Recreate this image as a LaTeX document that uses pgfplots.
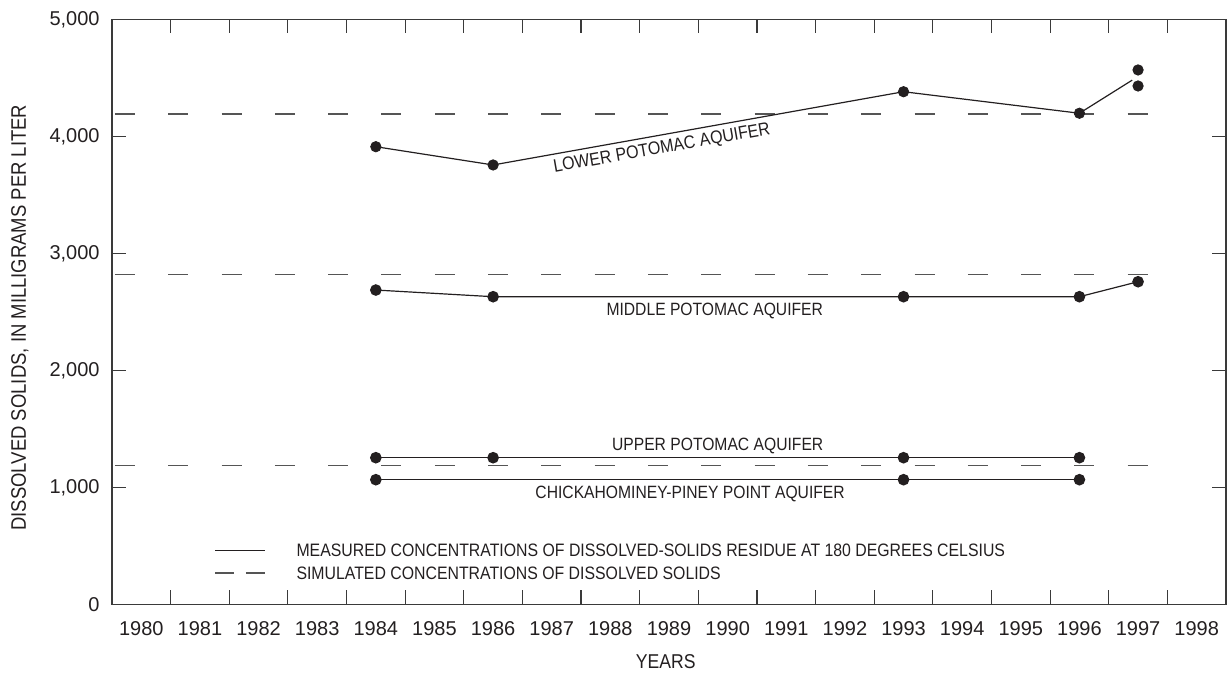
\documentclass[border=0pt]{standalone}
\usepackage{pgfplots}
\pgfplotsset{compat=1.18}
\usepackage{fontspec}
\setmainfont{Liberation Sans}[FakeStretch=0.88]
\newfontfamily\tickfont{Liberation Sans}
\definecolor{ink}{HTML}{231F20}
\definecolor{axisgray}{HTML}{3A3A3A}
\definecolor{dashgray}{HTML}{555555}
\begin{document}
\begin{tikzpicture}
\begin{axis}[
  scale only axis, width=557pt, height=292.5pt,
  xmin=1979.5, xmax=1998.5, ymin=0, ymax=5000,
  axis line style={axisgray, line width=0.6pt},
  xtick={1979.5,1980.5,...,1998.5},
  x tick label as interval,
  xticklabels={1980,1981,1982,1983,1984,1985,1986,1987,1988,1989,1990,1991,1992,1993,1994,1995,1996,1997,1998},
  ytick={0,1000,2000,3000,4000,5000},
  tick align=inside, xtick pos=both, ytick pos=both,
  xticklabel pos=lower, yticklabel pos=left,
  major tick length=7pt,
  tick style={axisgray, line width=0.6pt},
  /pgf/number format/assume math mode=true,
  /pgf/number format/1000 sep={,},
  tick label style={font=\tickfont\fontsize{10}{12}\selectfont, text=ink},
  yticklabel style={inner sep=0pt, anchor=east, xshift=-6pt},
  xticklabel style={inner sep=0pt, anchor=north, yshift=-8.5pt},
  ylabel={DISSOLVED SOLIDS, IN MILLIGRAMS PER LITER},
  xlabel={YEARS},
  every axis y label/.style={at={(axis description cs:-0.0826,0.49)}, rotate=90, anchor=center, inner sep=0pt, font=\fontsize{10.5}{12}\selectfont, text=ink},
  every axis x label/.style={at={(axis description cs:0.497,-0.0986)}, anchor=center, inner sep=0pt, font=\fontsize{10}{12}\selectfont, text=ink},
  clip=false,
]
% simulated concentrations (dashed)
\addplot[dashgray, line width=0.6pt, dash pattern=on 10pt off 16.65pt] coordinates {(1979.551,4190) (1997.17,4190)};
\addplot[dashgray, line width=0.6pt, dash pattern=on 10pt off 16.65pt] coordinates {(1979.551,2820) (1997.17,2820)};
\addplot[dashgray, line width=0.6pt, dash pattern=on 10pt off 16.65pt] coordinates {(1979.551,1185) (1997.17,1185)};
% lower potomac
\addplot[ink, line width=0.6pt] coordinates {(1984,3911) (1986,3755) (1993,4381) (1996,4197) (1996.9,4480)};
\addplot[ink, only marks, mark=*, mark size=2.6pt] coordinates {(1984,3911) (1986,3755) (1993,4381) (1996,4197) (1997,4567) (1997,4430)};
% middle potomac
\addplot[ink, line width=0.6pt, mark=*, mark size=2.6pt] coordinates {(1984,2686) (1986,2629) (1993,2629) (1996,2629) (1997,2757)};
% upper potomac
\addplot[ink, line width=0.6pt, mark=*, mark size=2.6pt] coordinates {(1984,1253) (1986,1253) (1993,1253) (1996,1253)};
% chickahominey-piney point
\addplot[ink, line width=0.6pt, mark=*, mark size=2.6pt] coordinates {(1984,1065) (1993,1065) (1996,1065)};
% curve labels
\node[rotate=10, inner sep=0pt, text=ink, font=\fontsize{9.1}{10}\selectfont] at (axis cs:1988.88,3893) {LOWER POTOMAC AQUIFER};
\node[inner sep=0pt, text=ink, font=\fontsize{8.9}{10}\selectfont] at (axis cs:1989.78,2511) {MIDDLE POTOMAC AQUIFER};
\node[inner sep=0pt, text=ink, font=\fontsize{8.9}{10}\selectfont] at (axis cs:1989.83,1353) {UPPER POTOMAC AQUIFER};
\node[inner sep=0pt, text=ink, font=\fontsize{8.9}{10}\selectfont] at (axis cs:1989.36,947) {CHICKAHOMINEY-PINEY POINT AQUIFER};
% legend
\draw[ink, line width=0.6pt] (axis cs:1981.257,462) -- (axis cs:1982.11,462);
\draw[dashgray, line width=0.6pt] (axis cs:1981.257,268) -- (axis cs:1981.58,268);
\draw[dashgray, line width=0.6pt] (axis cs:1981.785,268) -- (axis cs:1982.11,268);
\node[anchor=west, inner sep=0pt, text=ink, font=\fontsize{9}{10}\selectfont] at (axis cs:1982.64,462) {MEASURED CONCENTRATIONS OF DISSOLVED-SOLIDS RESIDUE AT 180 DEGREES CELSIUS};
\node[anchor=west, inner sep=0pt, text=ink, font=\fontsize{9}{10}\selectfont] at (axis cs:1982.64,268) {SIMULATED CONCENTRATIONS OF DISSOLVED SOLIDS};
\coordinate (SW) at (rel axis cs:0,0);
\coordinate (NE) at (rel axis cs:1,1);
\end{axis}
\pgfresetboundingbox
\path ([shift={(-56pt,-34.85pt)}]SW) rectangle ([shift={(1pt,9.65pt)}]NE);
\end{tikzpicture}
\end{document}
